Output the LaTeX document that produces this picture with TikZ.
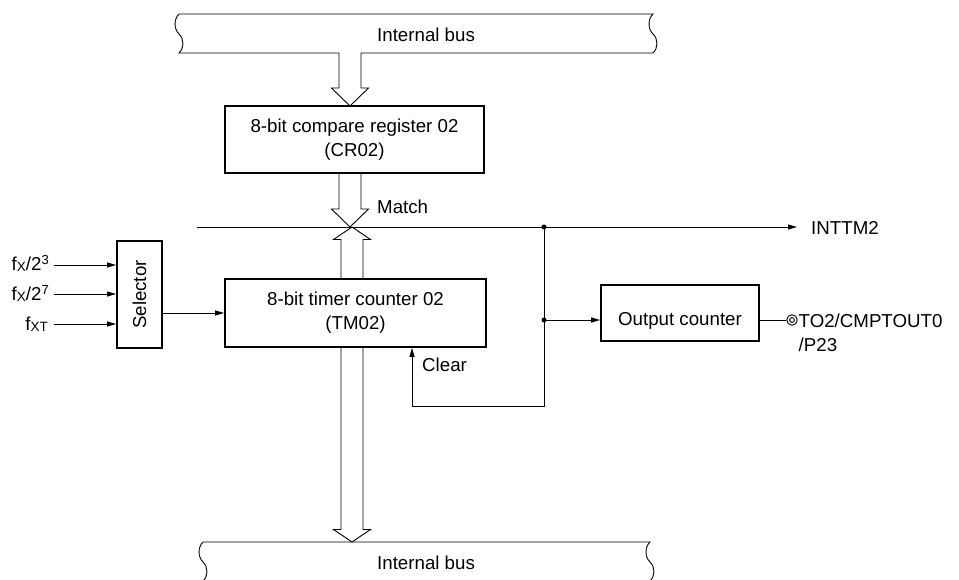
\documentclass[tikz,border=0pt]{standalone}
\usepackage{fontspec}
\setmainfont{Liberation Sans}
\usetikzlibrary{arrows.meta}
\newcommand\fsubX{\raisebox{-1pt}{\fontsize{13.5}{13.5}\selectfont X}}
\newcommand\fsubXT{\raisebox{-1pt}{\fontsize{13.5}{13.5}\selectfont XT}}
\begin{document}
\begin{tikzpicture}[x=1pt,y=-1pt,
  every node/.style={font=\fontsize{18.7}{24}\selectfont, inner sep=0pt},
  box/.style={draw, line width=1.8pt, align=center},
  wire/.style={line width=0.9pt},
  arr/.style={wire, -{Triangle[length=9pt,width=5pt]}},
  bus/.style={line width=0.9pt, fill=white, line join=miter},
  dot/.style={circle, fill, minimum size=5pt, inner sep=0pt}
]
\useasboundingbox (0,0) rectangle (959,580);

% top internal bus with hollow arrow to CR02
\draw[bus] (179,14) -- (653,14)
  .. controls (647.7,19) and (647.7,29) .. (653,34)
  .. controls (658.3,39) and (658.3,48) .. (653,53)
  -- (361,53) -- (361,88) -- (368.5,88) -- (350,106) -- (331.5,88) -- (339,88) -- (339,53)
  -- (179,53)
  .. controls (184.3,48) and (184.3,39) .. (179,34)
  .. controls (173.7,29) and (173.7,19) .. (179,14) -- cycle;
\node[anchor=base west] (ib1) at (377,42) {Internal bus};

% bottom internal bus
\draw[bus, fill=none] (203,581)
  .. controls (208.3,576) and (208.3,567) .. (203,562)
  .. controls (197.7,557) and (197.7,547) .. (203,542)
  -- (650,542)
  .. controls (644.7,547) and (644.7,557) .. (650,562)
  .. controls (655.3,567) and (655.3,576) .. (650,581);
\node[anchor=base west] (ib2) at (377,569) {Internal bus};

% hollow bus arrows
\draw[bus] (339,173) -- (339,209) -- (331.5,209) -- (350,227) -- (368.5,209) -- (361,209) -- (361,173);
\draw[bus] (341,279) -- (341,239.5) -- (333.5,239.5) -- (352,227) -- (370.5,239.5) -- (363,239.5) -- (363,279);
\draw[bus] (341,347) -- (341,529.5) -- (333.5,529.5) -- (352,542) -- (370.5,529.5) -- (363,529.5) -- (363,347);

% boxes
\node[box, minimum width=259pt, minimum height=67pt] (cr) at (354.5,139.5) {8-bit compare register 02\\(CR02)};
\node[box, minimum width=261pt, minimum height=68pt] (tm) at (355.5,313) {8-bit timer counter 02\\(TM02)};
\node[box, minimum width=45pt, minimum height=107pt] (sel) at (139.5,294.5) {\rotatebox{90}{Selector}};
\node[box, minimum width=158pt, text height=40pt, text depth=16pt] (oc) at (680,313) {Output counter};

% selector inputs
\coordinate (i1) at (54,265);
\coordinate (i2) at (54,294);
\coordinate (i3) at (54,324);
\node[anchor=base east] (f1) at (49.5,271) {f\fsubX/2\textsuperscript{3}};
\node[anchor=base east] (f2) at (49.5,300.5) {f\fsubX/2\textsuperscript{7}};
\node[anchor=base east] (f3) at (48,330.5) {f\fsubXT};
\draw[arr] (i1) -- (i1 -| sel.west);
\draw[arr] (i2) -- (i2 -| sel.west);
\draw[arr] (i3) -- (i3 -| sel.west);
\draw[arr] (sel.east |- tm.west) -- (tm.west);

% match line
\coordinate (m0) at (197,227);
\coordinate (j1) at (544,227);
\coordinate (m1) at (797,227);
\draw[arr] (m0) -- (m1);
\node[anchor=base west] (match) at (377,214) {Match};
\node[anchor=base west] (inttm) at (811,235) {INTTM2};

% clear feedback
\coordinate (clr) at (412,406);
\draw[arr] (j1) |- (clr) -- (clr |- tm.south);
\node[anchor=base west] (clear) at (422,371) {Clear};

% output counter
\coordinate (j2) at (544,320);
\draw[arr] (j2) -- (j2 -| oc.west);
\node[dot] (dj1) at (j1) {};
\node[dot] (dj2) at (j2) {};

% terminal
\node[circle, draw, wire, minimum size=10.5pt] (to2) at (792,320) {};
\draw[wire] (to2.center) circle (2.4pt);
\draw[wire] (oc.east |- to2) -- (to2.west);
\node[anchor=base west, align=left] (to2l) at (798.5,351) {TO2/CMPTOUT0\\/P23};
\end{tikzpicture}
\end{document}
